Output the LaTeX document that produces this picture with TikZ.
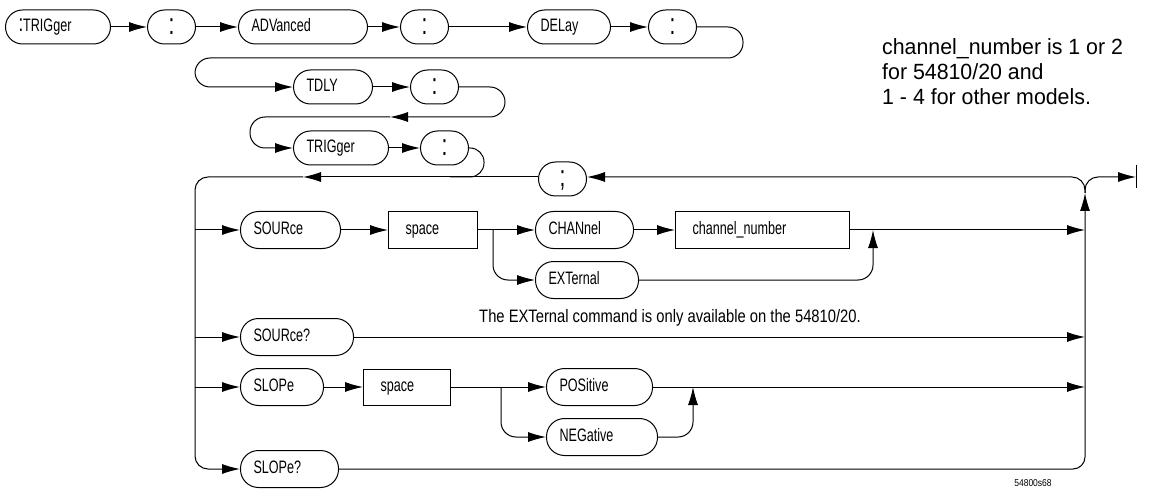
\documentclass[tikz,border=0pt]{standalone}
\usepackage{fontspec}
\setmainfont{Liberation Sans}
\newfontfamily\diagfont[FakeStretch=0.7]{Liberation Sans}
\newfontfamily\remarkfont[FakeStretch=0.82]{Liberation Sans}
\newfontfamily\notefont[FakeStretch=0.97]{Liberation Sans}
\newfontfamily\tagfont[FakeStretch=0.85]{Liberation Sans}
\usetikzlibrary{arrows.meta}

\begin{document}
\begin{tikzpicture}[
  x=1pt, y=-1pt,
  every node/.style={inner sep=0pt},
  pill/.style={draw, line width=1pt, rounded corners=17pt, minimum height=34pt,
    inner xsep=13pt, text width=#1, text height=13pt, text depth=4pt, align=left,
    font=\diagfont\fontsize{18}{20}\selectfont},
  tallpill/.style={pill=#1, minimum height=37pt, rounded corners=18pt},
  colon/.style={pill=22pt, align=center, text height=18pt, text depth=2pt,
    font=\diagfont\fontsize{30}{30}\selectfont},
  box/.style={draw, line width=1pt, minimum height=36pt, inner xsep=17pt,
    text width=#1, text height=13pt, text depth=4pt, align=left,
    font=\diagfont\fontsize{18}{20}\selectfont},
  wire/.style={draw, line width=1pt},
  arrow/.style={wire, -{Latex[length=18pt, width=10pt]}}]

  \useasboundingbox (0,0) rectangle (1151,489);

  % header chain
  \node[pill=79pt, anchor=west]  (trig)  at (5,27)   {{\fontsize{24}{24}\selectfont:}TRIGger};
  \node[colon, anchor=west]      (colA)  at (147,27) {:};
  \node[pill=103pt, anchor=west] (adv)   at (238,27) {ADVanced};
  \node[colon, anchor=west]      (colB)  at (400,27) {:};
  \node[pill=57pt, anchor=west]  (del)   at (527,27) {DELay};
  \node[colon, anchor=west]      (colC)  at (648,27) {:};
  \node[pill=53pt, anchor=west]  (tdly)  at (293,87) {TDLY};
  \node[colon, anchor=west]      (colD)  at (410,87) {:};
  \node[pill=69pt, anchor=west]  (trigB) at (293,148) {TRIGger};
  \node[colon, anchor=west]      (colE)  at (420,148) {:};
  \node[colon, anchor=west]      (semi)  at (538,179) {;};

  % branches of the loop
  \node[tallpill=74pt, anchor=west] (src)    at (240,230) {SOURce};
  \node[box=55pt, anchor=west]      (spA)    at (388,230) {space};
  \node[tallpill=72pt, anchor=west] (chan)   at (535,230) {CHANnel};
  \node[box=140pt, anchor=west]     (cnum)   at (675,230) {channel\_number};
  \node[tallpill=77pt, anchor=west] (ext)    at (535,280) {EXTernal};
  \node[tallpill=87pt, anchor=west] (srcq)   at (240,337) {SOURce?};
  \node[tallpill=57pt, anchor=west] (slope)  at (240,387) {SLOPe};
  \node[box=53pt, anchor=west]      (spB)    at (363,387) {space};
  \node[tallpill=80pt, anchor=west] (pos)    at (546,387) {POSitive};
  \node[tallpill=85pt, anchor=west] (neg)    at (546,437) {NEGative};
  \node[tallpill=72pt, anchor=west] (slopeq) at (240,469) {SLOPe?};

  % junctions
  \coordinate (lbus) at (195,177);
  \coordinate (rbus) at (1085,177);
  \coordinate (rj)   at (1085,193);
  \coordinate (ta)   at (303,177);
  \coordinate (r2)   at (390,117);
  \coordinate (j3)   at (450,177);
  \coordinate (bA)   at (493,230);
  \coordinate (mA)   at (873,230);
  \coordinate (bB)   at (501,387);
  \coordinate (mB)   at (693,387);
  \coordinate (bar)  at (1136,177);

  % header arrows
  \draw[arrow] (trig) -- (colA);
  \draw[arrow] (colA) -- (adv);
  \draw[arrow] (adv)  -- (colB);
  \draw[arrow] (colB) -- (del);
  \draw[arrow] (del)  -- (colC);
  \draw[arrow, rounded corners=15pt] (colC.east) -| (743,58) -| (195,87) -- (tdly.west);
  \draw[arrow] (tdly) -- (colD);
  \draw[arrow, rounded corners=15pt] (colD.east) -| (505,117) -- (r2);
  \draw[arrow, rounded corners=15pt] (r2) -| (250,148) -- (trigB.west);
  \draw[arrow] (trigB) -- (colE);
  \draw[wire, rounded corners=14pt] (colE.east) -| (484,177) -- (j3);

  % loop
  \draw[arrow, rounded corners=13pt] (rj) |- (semi.east |- rbus);
  \draw[arrow] (semi.west |- lbus) -- (ta);
  \draw[arrow, rounded corners=13pt] (ta) -| (195,469) -- (slopeq.west);
  \draw[arrow, rounded corners=12pt] (slopeq.east) -| (rj);
  \draw[arrow, rounded corners=13pt] (rj) |- (bar);
  \draw[wire] ([yshift=12pt]bar) -- ([yshift=-11pt]bar);

  % SOURce branch
  \draw[arrow] (src -| lbus) -- (src);
  \draw[arrow] (src)  -- (spA);
  \draw[arrow] (spA)  -- (chan);
  \draw[arrow] (chan) -- (cnum);
  \draw[arrow] (cnum) -- (cnum -| rbus);
  \draw[arrow, rounded corners=15pt] (bA) |- (ext.west);
  \draw[arrow, rounded corners=15pt] (ext.east) -| (mA);
  \draw[arrow] (srcq -| lbus) -- (srcq);
  \draw[arrow] (srcq) -- (srcq -| rbus);

  % SLOPe branch
  \draw[arrow] (slope -| lbus) -- (slope);
  \draw[arrow] (slope) -- (spB);
  \draw[arrow] (spB)   -- (pos);
  \draw[arrow] (pos)   -- (pos -| rbus);
  \draw[arrow, rounded corners=15pt] (bB) |- (neg.west);
  \draw[arrow, rounded corners=15pt] (neg.east) -| (mB);

  % notes
  \node[font=\remarkfont\fontsize{18}{20}\selectfont] (extnote) at (670,318)
    {The EXTernal command is only available on the 54810/20.};
  \node[anchor=north west, align=left,
        font=\notefont\fontsize{22}{25}\selectfont] (chnote) at (882,38)
    {channel\_number is 1 or 2\\for 54810/20 and\\1 - 4 for other models.};
  \node[font=\tagfont\fontsize{10}{12}\selectfont] (tag) at (1033,483) {54800s68};
\end{tikzpicture}
\end{document}
